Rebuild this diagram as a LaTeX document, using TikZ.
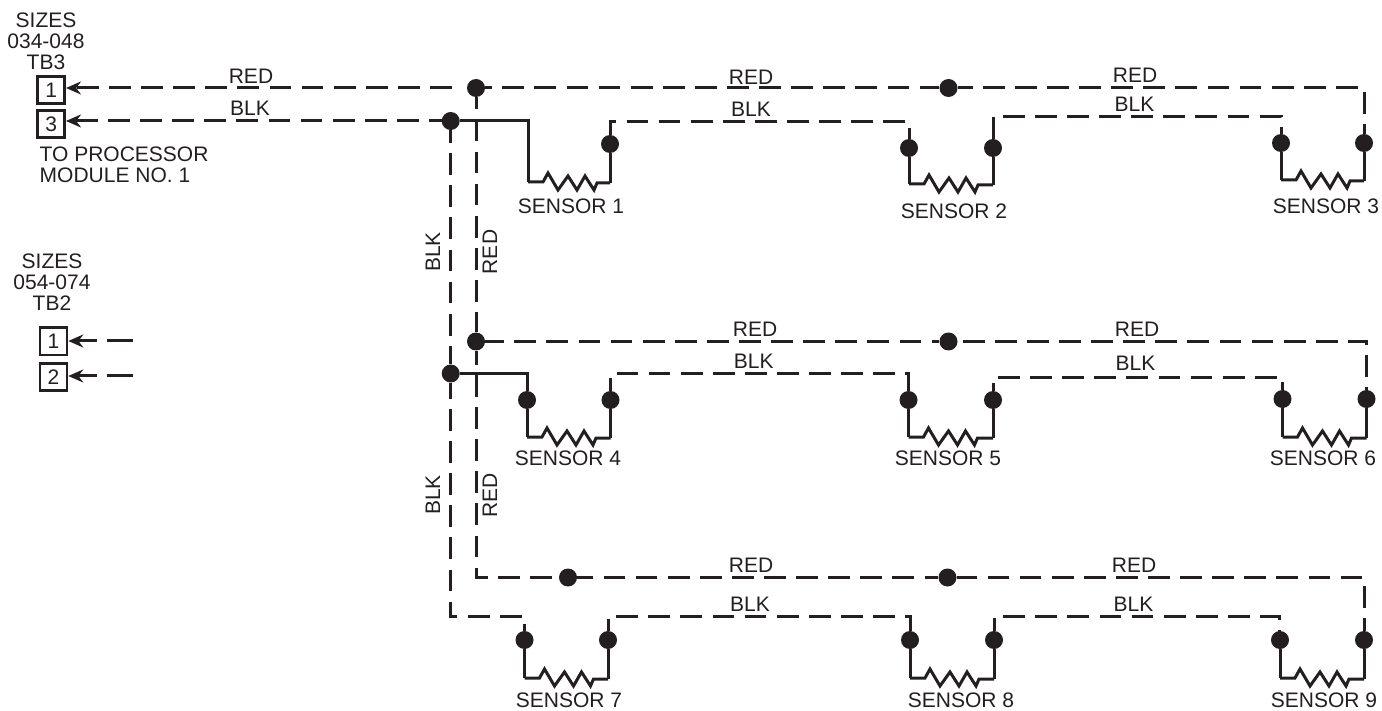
\documentclass[tikz,border=0pt]{standalone}
\usepackage{fontspec}
\setmainfont{Liberation Sans}
\usetikzlibrary{arrows.meta}
\definecolor{ink}{HTML}{231F20}
\tikzset{
  x=1pt,y=-1pt,
  wire/.style={draw=ink,line width=3pt},
  dash wire/.style={wire,dash pattern=on 21.8pt off 10.3pt},
  long dash wire/.style={wire,dash pattern=on 26pt off 10pt},
  junction/.style={circle,fill=ink,inner sep=0pt,minimum size=18pt},
  term/.style={draw=ink,line width=2.6pt,minimum width=27pt,minimum height=27.4pt,inner sep=0pt,text=ink,font=\fontsize{21}{21}\selectfont},
  lab/.style={text=ink,inner sep=0pt,font=\fontsize{21}{21}\selectfont},
  note/.style={lab,align=center},
  tip/.style={-{Stealth[length=15pt,width=13pt]}}
}
% \resist{x of left wire}{x of right wire}{y of the bottom}
\newcommand{\resist}[3]{%
  \draw[wire,line join=miter] (#1,#3) -- ++(15,0) -- ++(5,-9) -- ++(10,17) -- ++(10,-14) -- ++(9,14) -- ++(8,-14) -- ++(9,14) -- ++(3,-7) -- (#2,#3+1);
}
\begin{document}
\begin{tikzpicture}
\useasboundingbox (0,0) rectangle (1382,711);
% terminals
\node[term] (t1) at (51.2,90) {1};
\node[term] (t3) at (51.2,124) {3};
\node[term] (u1) at (53.5,341.5) {1};
\node[term] (u2) at (53.5,377) {2};
\coordinate (u1e) at (133,341);
\coordinate (u2e) at (133,376);
% junctions on the trunk
\node[junction] (jr1) at (476,88) {};
\node[junction] (jb1) at (450.7,121) {};
\node[junction] (jr2) at (476,341.5) {};
\node[junction] (jb2) at (450.7,373.5) {};
\node[junction] (jr3) at (568,577.5) {};
\node[junction] (r1m) at (948.5,88) {};
\node[junction] (r2m) at (948.5,341.5) {};
\node[junction] (r3m) at (947.5,577.5) {};
% sensor pins
\node[junction] (s1r) at (610,144) {};
\node[junction] (s2l) at (909,148) {};
\node[junction] (s2r) at (993,148) {};
\node[junction] (s3l) at (1281,143) {};
\node[junction] (s3r) at (1364,143) {};
\node[junction] (s4l) at (527,400) {};
\node[junction] (s4r) at (610.5,400) {};
\node[junction] (s5l) at (908.5,400) {};
\node[junction] (s5r) at (993,400) {};
\node[junction] (s6l) at (1282.5,399) {};
\node[junction] (s6r) at (1366.5,399) {};
\node[junction] (s7l) at (524.5,640) {};
\node[junction] (s7r) at (608,640) {};
\node[junction] (s8l) at (910,640) {};
\node[junction] (s8r) at (994,640) {};
\node[junction] (s9l) at (1280,640) {};
\node[junction] (s9r) at (1364,640) {};
% corners
\coordinate (k1) at (528,121);
\coordinate (k2) at (527,373.5);
\coordinate (c1a) at (610,121.7);
\coordinate (c1b) at (909,121.7);
\coordinate (c2a) at (993,116.5);
\coordinate (c2b) at (1281,116.5);
\coordinate (c3) at (1364,88);
\coordinate (c4a) at (610.5,373.5);
\coordinate (c4b) at (908.5,373.5);
\coordinate (c5a) at (993,377.5);
\coordinate (c5b) at (1282.5,377.5);
\coordinate (c6) at (1366.5,341.5);
\coordinate (c7) at (476,577.5);
\coordinate (c8) at (450.7,616.7);
\coordinate (c9) at (524.5,616.7);
\coordinate (c9e) at (524.5,631);
\coordinate (c10a) at (608,616.7);
\coordinate (c10b) at (910,616.7);
\coordinate (c11a) at (994,616.7);
\coordinate (c11b) at (1279,616.7);
\coordinate (c11e) at (1279,632);
\coordinate (c12) at (1364,577.5);
% left runs
\draw[dash wire,tip,shorten <=15pt] (jr1) -- (t1.east |- jr1);
\draw[dash wire,tip,dash phase=9.3pt] (jb1) -- (t3.east |- jb1);
\draw[long dash wire,tip] (u1e) -- (u1.east |- u1e);
\draw[long dash wire,tip] (u2e) -- (u2.east |- u2e);
% trunks
\draw[dash wire,dash phase=9.8pt] (jr1) -- (jr2);
\draw[dash wire,dash phase=7.8pt] (jr2) -- (c7) -- (jr3);
\draw[dash wire,dash phase=9pt] (jb1) -- (jb2);
\draw[dash wire,dash phase=5.8pt] (jb2) -- (c8) -- (c9) -- (c9e);
% red runs
\draw[dash wire,dash phase=15pt] (jr1) -- (r1m);
\draw[dash wire,dash phase=7pt] (r1m) -- (c3) -- (s3r);
\draw[dash wire,dash phase=3pt] (jr2) -- (r2m);
\draw[dash wire,dash phase=27.1pt] (r2m) -- (c6) -- (s6r);
\draw[dash wire,dash phase=5.8pt] (jr3) -- (r3m);
\draw[dash wire,dash phase=1.3pt] (r3m) -- (c12) -- (s9r);
% solid sensor leads
\draw[wire] (jb1) -- (k1) -- (528,182);
\draw[wire] (jb2) -- (k2) -- (s4l);
\foreach \p/\b in {s1r/183, s2l/184, s2r/185, s3l/180, s3r/181, s4l/437, s4r/438, s5l/437, s5r/438, s6l/437, s6r/438, s7l/678, s7r/679, s8l/678, s8r/679, s9l/678, s9r/679}
  \draw[wire] (\p) -- (\p |- 0,\b);
% black runs between sensors
\draw[dash wire,dash phase=2.5pt] (s1r) -- (c1a) -- (c1b) -- (s2l);
\draw[dash wire] (s2r) -- (c2a) -- (c2b) -- (s3l);
\draw[dash wire,dash phase=8.8pt] (s4r) -- (c4a) -- (c4b) -- (s5l);
\draw[dash wire,dash phase=13.8pt] (s5r) -- (c5a) -- (c5b) -- (s6l);
\draw[dash wire,dash phase=9.8pt] (s7r) -- (c10a) -- (c10b) -- (s8l);
\draw[dash wire,dash phase=8.8pt] (s8r) -- (c11a) -- (c11b) -- (c11e);
% resistors
\resist{528}{610}{182}
\resist{909}{993}{184}
\resist{1281}{1364}{180}
\resist{527}{610.5}{437}
\resist{908.5}{993}{437}
\resist{1282.5}{1366.5}{437}
\resist{524.5}{608}{678}
\resist{910}{994}{678}
\resist{1280}{1364}{678}
% labels
\node[note] (h1) at (46,41) {SIZES\\034-048\\TB3};
\node[note] (h2) at (52,282) {SIZES\\054-074\\TB2};
\node[lab,align=left,anchor=west] (h3) at (39.5,165) {TO PROCESSOR\\MODULE NO. 1};
\node[lab] (l1) at (251,76) {RED};
\node[lab] (l2) at (250,108) {BLK};
\node[lab] (l3) at (751,77) {RED};
\node[lab] (l4) at (751,109) {BLK};
\node[lab] (l5) at (1135,75) {RED};
\node[lab] (l6) at (1134.5,104.5) {BLK};
\node[lab] (l7) at (755,329) {RED};
\node[lab] (l8) at (753.7,361) {BLK};
\node[lab] (l9) at (1137,329) {RED};
\node[lab] (l10) at (1135.5,363) {BLK};
\node[lab] (l11) at (751,565) {RED};
\node[lab] (l12) at (750,604) {BLK};
\node[lab] (l13) at (1134,565) {RED};
\node[lab] (l14) at (1133.5,604) {BLK};
\node[lab,rotate=90] (v1) at (433,252) {BLK};
\node[lab,rotate=90] (v2) at (490,252) {RED};
\node[lab,rotate=90] (v3) at (433,495) {BLK};
\node[lab,rotate=90] (v4) at (490,495) {RED};
\node[lab] (n1) at (571,206) {SENSOR 1};
\node[lab] (n2) at (954,211) {SENSOR 2};
\node[lab] (n3) at (1326,206) {SENSOR 3};
\node[lab] (n4) at (568,458) {SENSOR 4};
\node[lab] (n5) at (948,458) {SENSOR 5};
\node[lab] (n6) at (1323,458) {SENSOR 6};
\node[lab] (n7) at (569,700) {SENSOR 7};
\node[lab] (n8) at (961,700) {SENSOR 8};
\node[lab] (n9) at (1324,700) {SENSOR 9};
\end{tikzpicture}
\end{document}
